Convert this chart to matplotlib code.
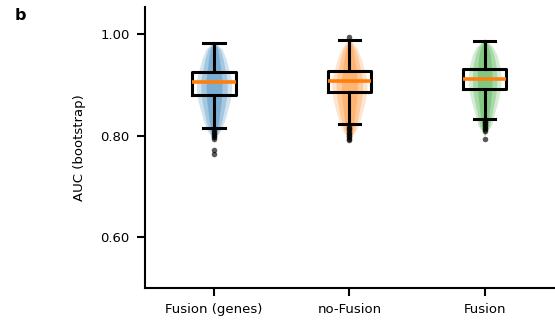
import numpy as np
import matplotlib
matplotlib.use('Agg')
import matplotlib.pyplot as plt

labels = ['Fusion (genes)', 'no-Fusion', 'Fusion']
colors = ['#1f77b4', '#ff7f0e', '#2ca02c']

# box statistics
medians = [0.905, 0.908, 0.912]
q1 = [0.879, 0.885, 0.891]
q3 = [0.925, 0.928, 0.931]
whislo = [0.815, 0.822, 0.833]
whishi = [0.982, 0.988, 0.986]
fliers = [
    [0.812, 0.809, 0.806, 0.803, 0.800, 0.797, 0.794, 0.771, 0.764],
    [0.818, 0.815, 0.812, 0.809, 0.806, 0.803, 0.800, 0.797, 0.794, 0.791, 0.993],
    [0.830, 0.827, 0.824, 0.821, 0.818, 0.815, 0.812, 0.809, 0.794],
]

# outline of the bootstrap point cloud (level, half width)
cloud_levels = [
    [0.790, 0.810, 0.830, 0.850, 0.870, 0.890, 0.910, 0.930, 0.950, 0.970, 0.985],
    [0.790, 0.810, 0.830, 0.850, 0.870, 0.890, 0.910, 0.930, 0.950, 0.970, 0.992],
    [0.800, 0.820, 0.840, 0.860, 0.880, 0.900, 0.920, 0.940, 0.960, 0.975, 0.990],
]
cloud_width = [
    [0.00, 0.05, 0.08, 0.10, 0.12, 0.13, 0.13, 0.11, 0.09, 0.06, 0.00],
    [0.00, 0.05, 0.08, 0.10, 0.12, 0.13, 0.13, 0.11, 0.09, 0.06, 0.00],
    [0.00, 0.05, 0.07, 0.09, 0.11, 0.12, 0.12, 0.11, 0.09, 0.06, 0.00],
]


def main():
    plt.rcParams['font.family'] = 'DejaVu Sans'
    fig = plt.figure(figsize=(5.55, 3.25), dpi=100)
    ax = fig.add_axes([0.2613, 0.1138, 0.7387, 0.8647])

    for i in range(len(labels)):
        lv = np.array(cloud_levels[i])
        hw = np.array(cloud_width[i])
        for scale, a in [(1.0, 0.2), (0.75, 0.25), (0.45, 0.3)]:
            ax.fill_betweenx(lv, i - hw * scale, i + hw * scale,
                             color=colors[i], alpha=a, lw=0, zorder=1)

    stats = []
    for i in range(len(labels)):
        stats.append(dict(med=medians[i], q1=q1[i], q3=q3[i],
                          whislo=whislo[i], whishi=whishi[i], fliers=fliers[i]))
    ax.bxp(stats, positions=range(len(labels)), widths=0.32, showfliers=True,
           boxprops=dict(color='black', lw=2.2),
           whiskerprops=dict(color='black', lw=2.2),
           capprops=dict(color='black', lw=2.2),
           medianprops=dict(color='#ff7f0e', lw=2.6),
           flierprops=dict(marker='o', markersize=4, markerfacecolor='black',
                           markeredgecolor='none', alpha=0.65),
           zorder=3)

    ax.set_xlim(-0.51, 2.52)
    ax.set_ylim(0.5, 1.053)
    ax.set_yticks([0.6, 0.8, 1.0])
    ax.set_yticklabels(['0.60', '0.80', '1.00'])
    ax.set_xticks(range(len(labels)))
    ax.set_xticklabels(labels)
    ax.set_ylabel('AUC (bootstrap)', fontsize=9.5, labelpad=10)
    ax.tick_params(labelsize=9.5, width=1.5, length=6, pad=5)
    ax.spines['top'].set_visible(False)
    ax.spines['right'].set_visible(False)
    ax.spines['left'].set_linewidth(1.5)
    ax.spines['bottom'].set_linewidth(1.5)

    fig.text(0.027, 0.94, 'b', fontsize=11.5, fontweight='bold')

    fig.savefig('out.png', dpi=100)


if __name__ == '__main__':
    main()
